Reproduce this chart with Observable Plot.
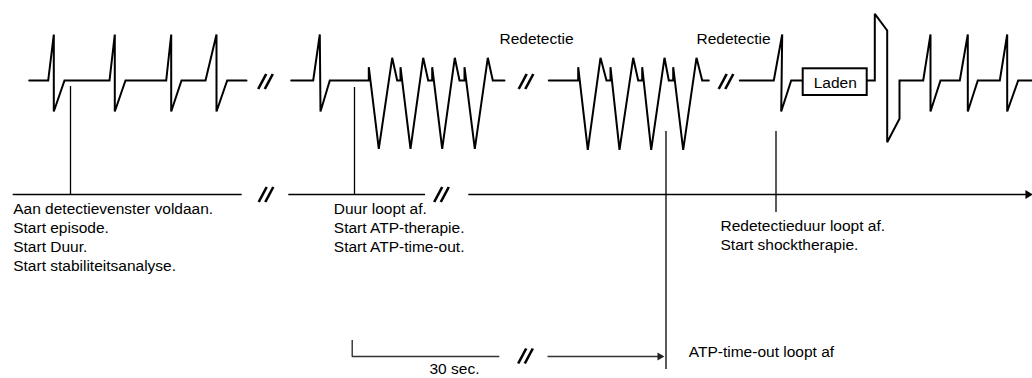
<!DOCTYPE html>
<html>
<head>
<meta charset="utf-8">
<script src="https://cdn.jsdelivr.net/npm/d3@7"></script>
<script src="https://cdn.jsdelivr.net/npm/@observablehq/plot@0.6"></script>
<style>
  html, body { margin: 0; padding: 0; background: #fff; overflow: hidden; }
  #chart svg { display: block; }
</style>
</head>
<body>
<div id="chart"></div>
<script>
// ---- Diagram data (diagram units: t = horizontal time position, v = vertical signal level) ----
const ecgSinus1 = [[28.7,80],[47.7,80],[53.3,34],[53.3,111],[64,80],[109,80],[114.3,34],[114.3,111],[125,80],[165.7,80],[170.7,34],[170.7,111],[181,80],[205,80],[216,34],[216,111],[226.7,80],[246,80]];
const ecgVT1 = [[290.7,80],[312.7,80],[319.3,34],[320,111],[329.3,80],[368.3,80],[368.3,66.7],[378.3,148.3],[391.7,57.3],[396.7,80],[400,80],[400,66.7],[410,148.3],[422.7,57.3],[427.7,80],[431.7,80],[431.7,66.7],[441.7,148.3],[454.3,57.3],[459,80],[464,80],[464,66.7],[474.3,148.3],[487.3,57.3],[492.3,80],[504,80]];
const ecgVT2 = [[548.3,80],[577.7,80],[577.7,66.7],[587.3,149.3],[600,57.3],[606,80],[610,80],[610,66.7],[619,149.3],[632.7,57.3],[637.7,80],[641.7,80],[641.7,66.7],[650.7,149.3],[664,57.3],[668.3,80],[672.7,80],[672.7,66.7],[682.7,149.3],[696,57.3],[701.7,80],[708.3,80]];
const ecgRedetect = [[739.3,80],[773.3,80],[781.7,34],[780.7,111],[790.7,80],[802.7,80]];
const ecgShock = [[866.7,80],[874.3,80],[874.3,13.3],[886.7,30],[886.7,141.7],[899,118.3],[899,80],[922.7,80],[930,34],[930,111],[940,80],[959.3,80],[967.3,34],[967.3,111],[977.3,80],[999.3,80],[1006.7,34],[1006.7,111],[1017.7,80],[1032,80]];

const timelineSegments = [[12.7, 241.7], [288.3, 425], [468.3, 1026]];
const timelineLevel = 194;
const eventMarkers = [[70, 86, 194], [354, 87, 194], [665.5, 131, 369], [775.5, 131, 212]];
const breakCenters = [[265, 81], [525.5, 81], [725.5, 81], [265.5, 194], [441, 194], [525, 355.5]];

const chargeBox = [802.7, 866.7, 68.3, 95];
const chargeLabel = "Laden";

const topLabels = [["Redetectie", 499, 39], ["Redetectie", 696, 39]];
const eventLabels = [
  ["Aan detectievenster voldaan.", 12.7, 209],
  ["Start episode.", 12.7, 228],
  ["Start Duur.", 12.7, 247],
  ["Start stabiliteitsanalyse.", 12.7, 266],
  ["Duur loopt af.", 333.3, 209],
  ["Start ATP-therapie.", 333.3, 228],
  ["Start ATP-time-out.", 333.3, 247],
  ["Redetectieduur loopt af.", 720, 226],
  ["Start shocktherapie.", 720, 245],
  ["ATP-time-out loopt af", 688.3, 352]
];
const scaleBar = {x1: 351.7, x2: 499.3, yTop: 340, y: 356, label: "30 sec.", labelX: 429, labelY: 369};
const timeoutArrow = {x1: 547.5, x2: 663.3, y: 356};

// ---- Build tables ----
const ecgRows = [ecgSinus1, ecgVT1, ecgVT2, ecgRedetect, ecgShock]
  .flatMap((seg, i) => seg.map(([t, v]) => ({t, v, seg: i})));
const axisRows = timelineSegments.map(([a, b]) => ({x1: a, x2: b, y: timelineLevel}));
const markerRows = eventMarkers.map(([x, y1, y2]) => ({x, y1, y2}));
const slashRows = breakCenters.flatMap(([cx, cy]) => [-3.3, 3.3].map(off => ({
  x1: cx + off - 4, y1: cy + 7.5, x2: cx + off + 4, y2: cy - 7.5
})));
const labelRows = eventLabels.map(([text, x, y]) => ({text, x, y}));
const topRows = topLabels.map(([text, x, y]) => ({text, x, y}));

const font = "'Liberation Sans', Arial, Helvetica, sans-serif";

const chart = Plot.plot({
  width: 1032,
  height: 378,
  margin: 0,
  x: {type: "linear", domain: [0, 1032], range: [0, 1032], axis: null},
  y: {type: "linear", domain: [0, 378], range: [0, 378], axis: null},
  style: {fontFamily: font, background: "#fff", color: "#000", overflow: "visible"},
  marks: [
    // time line segments
    Plot.ruleY(axisRows, {y: "y", x1: "x1", x2: "x2", stroke: "#000", strokeWidth: 1.5}),
    Plot.dot([{x: 1027.5, y: timelineLevel}], {x: "x", y: "y", symbol: "triangle2", rotate: 90, r: 4.2, fill: "#000", stroke: "none"}),
    // event marker lines
    Plot.ruleX(markerRows, {x: "x", y1: "y1", y2: "y2", stroke: "#000", strokeWidth: 1.3}),
    // ECG traces
    Plot.line(ecgRows, {x: "t", y: "v", z: "seg", stroke: "#000", strokeWidth: 2, strokeLinejoin: "miter", strokeMiterlimit: 3, curve: "linear"}),
    // charge box
    Plot.rect([{x1: chargeBox[0], x2: chargeBox[1], y1: chargeBox[2], y2: chargeBox[3]}], {x1: "x1", x2: "x2", y1: "y1", y2: "y2", fill: "#fff", stroke: "#000", strokeWidth: 2}),
    Plot.text([{text: chargeLabel, x: (chargeBox[0] + chargeBox[1]) / 2, y: (chargeBox[2] + chargeBox[3]) / 2 + 0.5}], {x: "x", y: "y", text: "text", fontSize: 15.5, fill: "#000"}),
    // break marks
    Plot.link(slashRows, {x1: "x1", y1: "y1", x2: "x2", y2: "y2", stroke: "#000", strokeWidth: 2.6}),
    // scale bar
    Plot.ruleX([scaleBar], {x: "x1", y1: "yTop", y2: "y", stroke: "#222", strokeWidth: 1.3}),
    Plot.ruleY([scaleBar], {y: "y", x1: "x1", x2: "x2", stroke: "#333", strokeWidth: 1.5}),
    Plot.text([scaleBar], {x: "labelX", y: "labelY", text: "label", textAnchor: "start", fontSize: 15.5, fill: "#000"}),
    // ATP time-out arrow
    Plot.ruleY([timeoutArrow], {y: "y", x1: "x1", x2: d => d.x2 - 4, stroke: "#333", strokeWidth: 1.5}),
    Plot.dot([timeoutArrow], {x: d => d.x2 - 4, y: "y", symbol: "triangle2", rotate: 90, r: 3.8, fill: "#222", stroke: "none"}),
    // labels
    Plot.text(topRows, {x: "x", y: "y", text: "text", textAnchor: "start", fontSize: 15.5, fill: "#000"}),
    Plot.text(labelRows, {x: "x", y: "y", text: "text", textAnchor: "start", fontSize: 15.5, fill: "#000"})
  ]
});
document.getElementById("chart").appendChild(chart);
</script>
</body>
</html>
